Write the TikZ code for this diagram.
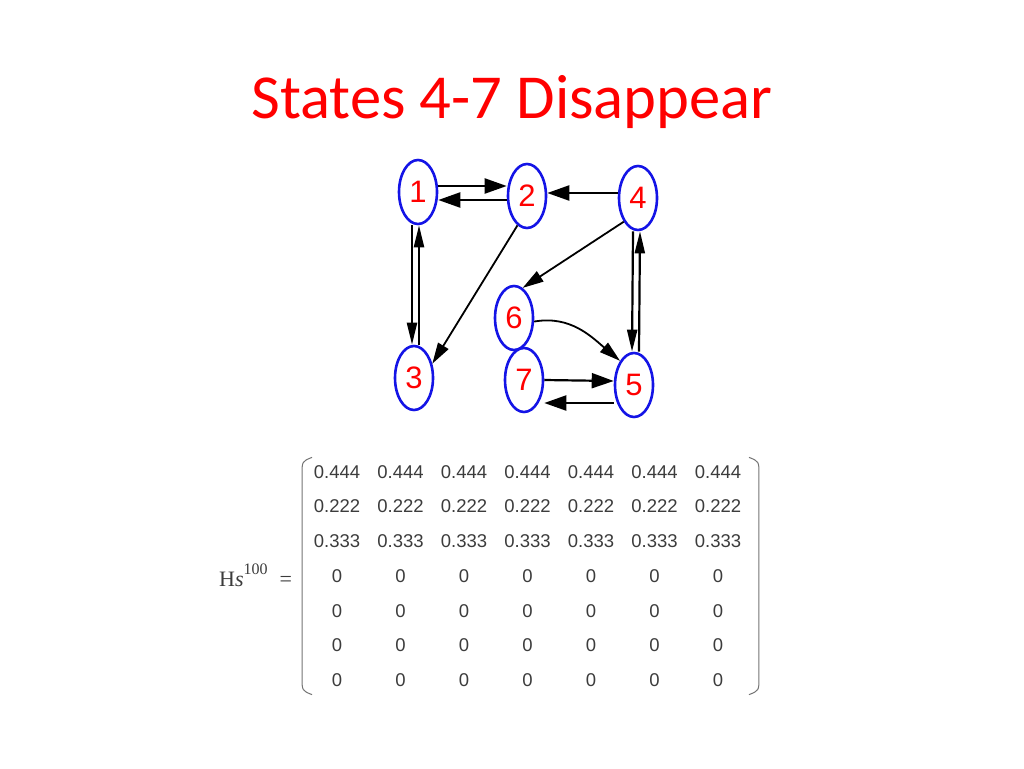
\documentclass[tikz,border=0pt]{standalone}
\usepackage{fontspec}
\setmainfont{Liberation Serif}
\newfontfamily\titlefont{Carlito}
\newfontfamily\arialfont{Liberation Sans}
\usetikzlibrary{shapes.geometric,arrows.meta,matrix}
\definecolor{titlered}{RGB}{255,0,0}
\definecolor{nodeblue}{RGB}{20,20,230}
\definecolor{numgray}{RGB}{60,60,60}
\tikzset{
  state/.style={ellipse,draw=nodeblue,line width=2.6pt,fill=white,minimum width=38pt,minimum height=64pt,inner sep=0pt,
    font=\arialfont\fontsize{31}{31}\selectfont,text=red},
  arrh/.style={line width=2.2pt,-{Triangle[length=22pt,width=15pt]}},
  arrv/.style={line width=2.2pt,-{Triangle[length=22pt,width=10pt]}},
  arrd/.style={line width=1.8pt,-{Triangle[length=21pt,width=12pt]}},
  paren/.style={line width=1pt,draw=black!55},
  cell/.style={minimum width=63.5pt,minimum height=34.7pt,inner sep=0pt,text=numgray,
    font=\arialfont\fontsize{18.5}{18.5}\selectfont}
}
\begin{document}
\begin{tikzpicture}[x=1pt,y=-1pt]
\useasboundingbox (0,0) rectangle (1024,768);
\node[anchor=base,text=titlered,font=\titlefont\fontsize{62.6}{62.6}\selectfont] (title) at (512,118) {States 4-7 Disappear};

\node[state] (n1) at (418,192) {1};
\node[state] (n2) at (527,196) {2};
\node[state] (n4) at (638,198) {4};
\node[state] (n6) at (514,318) {6};
\node[state] (n3) at (414,378) {3};
\node[state] (n7) at (524,380) {7};
\node[state] (n5) at (634,385) {5};

\draw[arrh] ([yshift=6pt]n1.east) -- ([yshift=10pt]n2.west);
\draw[arrh] ([yshift=-4pt]n2.west) -- ([yshift=-8pt]n1.east);
\draw[arrh] ([yshift=5pt]n4.west) -- ([yshift=3pt]n2.east);
\draw[arrv] ([xshift=-6pt]n1.south) -- ([xshift=-2pt]n3.north);
\draw[arrv] ([xshift=5pt]n3.north) -- ([xshift=1pt]n1.south);
\draw[arrd] (n2.252) -- (n3.38);
\draw[arrd] (n4.239) -- (n6.74);
\draw[arrd] (n6.350) to[out=10,in=140] (n5.120);
\draw[arrv] ([xshift=-5pt]n4.south) -- ([xshift=-2pt]n5.north);
\draw[arrv] ([xshift=5pt]n5.north) -- ([xshift=2pt]n4.south);
\draw[arrh] (n7.east) -- ([yshift=4pt]n5.west);
\draw[arrh] ([yshift=-18pt]n5.west) -- ([yshift=-23pt]n7.east);

\matrix (m) [matrix of nodes,nodes={cell},column sep=0pt,row sep=0pt,inner sep=0pt] at (527.5,576) {
0.444 & 0.444 & 0.444 & 0.444 & 0.444 & 0.444 & 0.444 \\
0.222 & 0.222 & 0.222 & 0.222 & 0.222 & 0.222 & 0.222 \\
0.333 & 0.333 & 0.333 & 0.333 & 0.333 & 0.333 & 0.333 \\
0 & 0 & 0 & 0 & 0 & 0 & 0 \\
0 & 0 & 0 & 0 & 0 & 0 & 0 \\
0 & 0 & 0 & 0 & 0 & 0 & 0 \\
0 & 0 & 0 & 0 & 0 & 0 & 0 \\
};
\draw[paren] ([xshift=7pt,yshift=-3pt]m.north west) .. controls ([xshift=-3pt,yshift=-7pt]m.north west) .. ([xshift=-3pt,yshift=-20pt]m.north west)
  -- ([xshift=-3pt,yshift=20pt]m.south west) .. controls ([xshift=-3pt,yshift=7pt]m.south west) .. ([xshift=7pt,yshift=3pt]m.south west);
\draw[paren] ([xshift=-1pt,yshift=-3pt]m.north east) .. controls ([xshift=9pt,yshift=-7pt]m.north east) .. ([xshift=9pt,yshift=-20pt]m.north east)
  -- ([xshift=9pt,yshift=20pt]m.south east) .. controls ([xshift=9pt,yshift=7pt]m.south east) .. ([xshift=-1pt,yshift=3pt]m.south east);

\node[anchor=base west,inner sep=0pt,text=numgray,font=\fontsize{22}{22}\selectfont] (hs) at (219,586)
  {H\textit{s}\raisebox{12pt}{\fontsize{16}{16}\selectfont 100}\hspace{12pt}=};
\end{tikzpicture}
\end{document}
